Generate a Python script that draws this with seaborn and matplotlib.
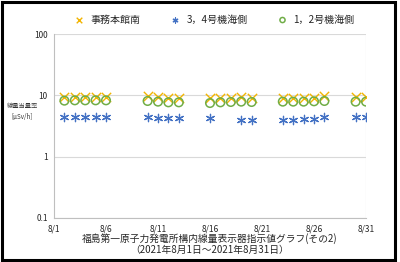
import numpy as np
import pandas as pd
import matplotlib.pyplot as plt
import seaborn as sns
from matplotlib.patches import Rectangle

sns.set_style('white')
plt.rcParams['font.family'] = ['Noto Sans CJK JP', 'DejaVu Sans']

# データ (8月の日付)
days_main = [2, 3, 4, 5, 6, 10, 11, 12, 13, 16, 17, 18, 19, 20, 23, 24, 25, 26, 27, 30, 31]
honkan = [9.3, 9.3, 9.4, 9.4, 9.4, 9.8, 9.4, 9.2, 9.0, 8.9, 9.1, 9.2, 9.3, 9.2,
          9.0, 9.0, 9.1, 9.2, 9.7, 9.3, 9.3]
unit12 = [8.2, 8.3, 8.3, 8.3, 8.3, 8.1, 7.9, 7.7, 7.7, 7.5, 7.7, 7.8, 7.9, 7.8,
          7.9, 7.9, 7.9, 8.0, 8.1, 7.9, 7.9]
days_34 = [2, 3, 4, 5, 6, 10, 11, 12, 13, 16, 19, 20, 23, 24, 25, 26, 27, 30, 31]
unit34 = [4.4, 4.4, 4.4, 4.4, 4.4, 4.4, 4.3, 4.3, 4.2, 4.2, 4.0, 4.0,
          4.0, 4.0, 4.1, 4.1, 4.4, 4.4, 4.4]

labels = ['事務本館南', '3，4号機海側', '1，2号機海側']
xticks = [1, 6, 11, 16, 21, 26, 31]

df = pd.concat([
    pd.DataFrame({'day': days_main, 'val': honkan, 'loc': labels[0]}),
    pd.DataFrame({'day': days_34, 'val': unit34, 'loc': labels[1]}),
    pd.DataFrame({'day': days_main, 'val': unit12, 'loc': labels[2]}),
])

fig = plt.figure(figsize=(4, 2.62), dpi=100)
ax = fig.add_axes([0.135, 0.168, 0.78, 0.702])

styles = {
    labels[0]: dict(marker='x', color='#F2B400', s=45, linewidths=1.0, zorder=3),
    labels[1]: dict(marker=(6, 2, 0), color='#4472C4', s=36, linewidths=0.9, zorder=3),
    labels[2]: dict(marker='o', facecolors='none', edgecolors='#70AD47', s=38, linewidths=1.1, zorder=4),
}
for name in labels:
    sub = df[df['loc'] == name]
    sns.scatterplot(data=sub, x='day', y='val', ax=ax, label=name, **styles[name])

ax.set_yscale('log')
ax.set_ylim(0.1, 100)
ax.set_xlim(1, 31)
ax.set_yticks([0.1, 1, 10, 100])
ax.set_yticklabels(['0.1', '1', '10', '100'])
ax.minorticks_off()
ax.set_xticks(xticks)
ax.set_xticklabels([f'8/{d}' for d in xticks])
ax.tick_params(labelsize=6, length=3, width=0.6, color='#BFBFBF', pad=1.5)
ax.yaxis.grid(True, color='#D9D9D9', linewidth=0.8)
for side in ['top', 'right']:
    ax.spines[side].set_visible(False)
for side in ['left', 'bottom']:
    ax.spines[side].set_color('#BFBFBF')
    ax.spines[side].set_linewidth(0.8)
ax.axvline(31, color='#D9D9D9', linewidth=0.8, zorder=0)

ax.set_xlabel('福島第一原子力発電所構内線量表示器指示値グラフ(その2)\n（2021年8月1日～2021年8月31日）',
              fontsize=7, labelpad=0, linespacing=1.15)
ax.set_ylabel('')
fig.text(0.055, 0.575, '線量当量率\n[μSv/h]', fontsize=4.5, ha='center', va='center',
         linespacing=1.4, color='#333333')

ax.legend_.remove()
h, l = ax.get_legend_handles_labels()
fig.legend(h, l, loc='center', bbox_to_anchor=(0.53, 0.925), ncol=3, frameon=False,
           fontsize=7.2, handletextpad=0.1, columnspacing=2.5, markerscale=0.6)

fig.patches.append(Rectangle((0.004, 0.008), 0.984, 0.984, transform=fig.transFigure,
                             fill=False, edgecolor='black', linewidth=2.2))

fig.savefig('out.png', dpi=100)
